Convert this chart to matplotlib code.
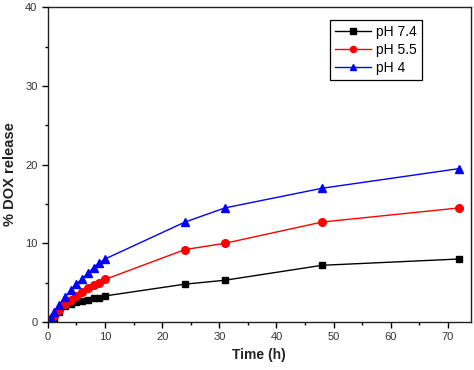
import numpy as np
import matplotlib
matplotlib.use('Agg')
import matplotlib.pyplot as plt
from matplotlib.ticker import MultipleLocator

plt.rcParams['font.family'] = ['Liberation Sans', 'DejaVu Sans']

# Datos
t_74 = [0, 1, 2, 3, 4, 5, 6, 7, 8, 9, 10, 24, 31, 48, 72]
y_74 = [0, 0.3, 1.3, 2.0, 2.3, 2.5, 2.7, 2.8, 3.0, 3.1, 3.3, 4.8, 5.3, 7.2, 8.0]

t_55 = [0, 0.5, 1, 2, 3, 4, 5, 6, 7, 8, 9, 10, 24, 31, 48, 72]
y_55 = [0, 0.4, 0.8, 1.5, 2.3, 2.8, 3.3, 3.8, 4.3, 4.7, 5.0, 5.4, 9.2, 10.0, 12.7, 14.5]

t_4 = [0, 0.5, 1, 2, 3, 4, 5, 6, 7, 8, 9, 10, 24, 31, 48, 72]
y_4 = [0, 0.5, 1.2, 2.2, 3.2, 4.0, 4.8, 5.5, 6.2, 6.9, 7.5, 8.0, 12.7, 14.5, 17.0, 19.5]

etiquetas = ['pH 7.4', 'pH 5.5', 'pH 4']

fig = plt.figure(figsize=(4.74, 3.70), dpi=100)
ax = fig.add_axes([0.101, 0.130, 0.892, 0.850])

ax.plot(t_74, y_74, color='black', marker='s', markersize=5, linewidth=1, label=etiquetas[0])
ax.plot(t_55, y_55, color='red', marker='o', markersize=5.5, linewidth=1, label=etiquetas[1])
ax.plot(t_4, y_4, color='blue', marker='^', markersize=6, linewidth=1, label=etiquetas[2])

ax.set_xlim(0, 74)
ax.set_ylim(0, 40)
ax.xaxis.set_major_locator(MultipleLocator(10))
ax.xaxis.set_minor_locator(MultipleLocator(5))
ax.yaxis.set_major_locator(MultipleLocator(10))
ax.yaxis.set_minor_locator(MultipleLocator(5))
ax.tick_params(which='major', direction='out', length=4, width=1, labelsize=8, labelcolor='#333333')
ax.tick_params(which='minor', direction='out', length=2.5, width=1)
for lado in ax.spines.values():
    lado.set_linewidth(1)
    lado.set_color('#222222')

ax.set_xlabel('Time (h)', fontsize=10, fontweight='bold', color='#222222', labelpad=4)
ax.set_ylabel('% DOX release', fontsize=10.5, fontweight='bold', color='#222222')
ax.yaxis.set_label_coords(-0.074, 0.47)

leg = ax.legend(loc='upper right', bbox_to_anchor=(0.885, 0.96), fontsize=10,
                fancybox=False, edgecolor='black', framealpha=1, markerscale=0.8,
                handlelength=2.6, handletextpad=0.4, borderpad=0.35, labelspacing=0.3,
                borderaxespad=0)
leg.get_frame().set_linewidth(0.9)

plt.savefig('out.png', dpi=100)
